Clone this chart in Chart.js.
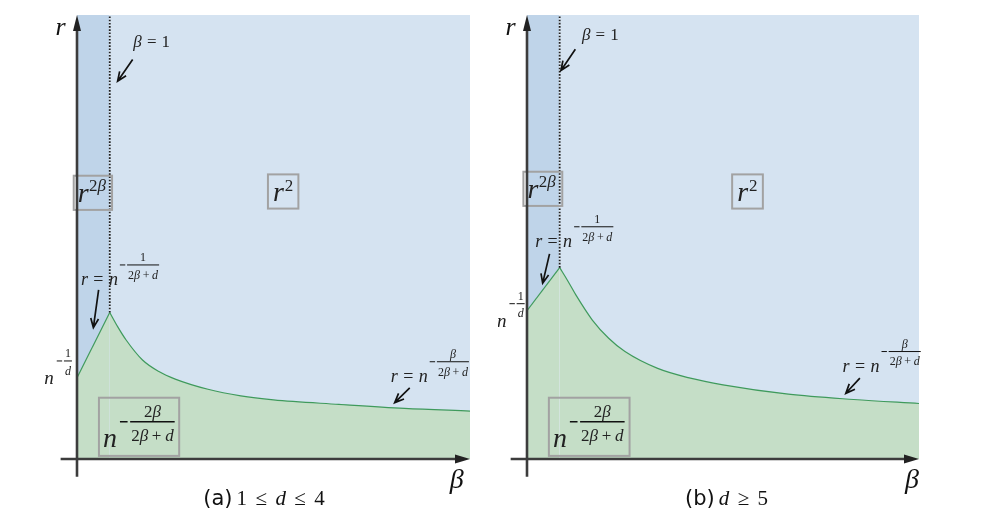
<!DOCTYPE html>
<html>
<head>
<meta charset="utf-8">
<script src="https://cdn.jsdelivr.net/npm/chart.js@4.4.0/dist/chart.umd.min.js"></script>
<style>
  html, body { margin: 0; padding: 0; background: #fff; }
  #wrap { position: relative; width: 996px; height: 514px; }
  .panel { position: absolute; top: 0; width: 498px; height: 514px; }
</style>
</head>
<body>
<div id="wrap">
  <div class="panel" style="left:0"><canvas id="chartA" width="498" height="514"></canvas></div>
  <div class="panel" style="left:498px"><canvas id="chartB" width="498" height="514"></canvas></div>
</div>
<script>
// boundary curve r(beta) (axis units: beta 0..12, r 0..10)
const betaA = [0, 1, 1.25, 1.5, 2, 2.5, 3, 4, 5, 6, 8, 10, 12];
const rA    = [1.83, 3.30, 2.97, 2.68, 2.23, 1.97, 1.80, 1.57, 1.42, 1.33, 1.23, 1.14, 1.08];
const betaB = [0, 1, 1.25, 1.5, 2, 2.5, 3, 4, 5, 6, 8, 10, 12];
const rB    = [3.34, 4.31, 4.01, 3.69, 3.13, 2.72, 2.42, 2.04, 1.82, 1.67, 1.46, 1.34, 1.25];
const betaRange = [0, 12];
const rRange = [0, 10];
const betaSplit = 1;

const regionLabels = { left: ['r', '2β'], right: ['r', '2'], low: ['n', '2β', '2β + d'] };
const captionA = ['(a)', '1 ≤ d ≤ 4'];
const captionB = ['(b)', 'd ≥ 5'];

// annotation anchors, in axis units
const notesA = {
  rLabel: [-0.66, 9.55], betaLabel: [11.38, -0.65], caption: [5.71, -1.04],
  betaOne: [1.72, 9.29], betaOneArrow: [1.70, 9.00, 1.24, 8.51],
  boxR2b: [-0.10, 6.38, 1.07, 5.61], boxR2: [5.83, 6.41, 6.76, 5.64], boxN: [0.67, 1.38, 3.12, 0.07],
  peakLabel: [0.12, 3.92], peakArrow: [0.66, 3.81, 0.50, 2.96],
  startLabel: [-1.0, 1.69],
  tailLabel: [9.58, 1.74], tailArrow: [10.16, 1.60, 9.70, 1.27]
};
const notesB = {
  rLabel: [-0.66, 9.55], betaLabel: [11.57, -0.65], caption: [6.11, -1.04],
  betaOne: [1.68, 9.44], betaOneArrow: [1.48, 9.23, 1.04, 8.75],
  boxR2b: [-0.11, 6.47, 1.08, 5.70], boxR2: [6.28, 6.41, 7.22, 5.64], boxN: [0.67, 1.38, 3.14, 0.07],
  peakLabel: [0.25, 4.78], peakArrow: [0.69, 4.62, 0.48, 3.96],
  startLabel: [-0.92, 2.98],
  tailLabel: [9.66, 1.97], tailArrow: [10.19, 1.82, 9.76, 1.48]
};

const SERIF = '"Liberation Serif", "DejaVu Serif", serif';

function setFont(ctx, size, italic) {
  ctx.font = (italic ? 'italic ' : '') + size + 'px ' + SERIF;
}

// draw math-ish text: latin letters and greek italic, the rest upright
function mathText(ctx, str, x, y, size, spaceEm) {
  const sp = size * (spaceEm || 0.3);
  for (const ch of str) {
    if (ch === ' ') { x += sp; continue; }
    setFont(ctx, size, /[a-zβ]/.test(ch));
    ctx.fillText(ch, x, y);
    x += ctx.measureText(ch).width;
  }
  return x;
}

function mathWidth(ctx, str, size, spaceEm) {
  const sp = size * (spaceEm || 0.3);
  let w = 0;
  for (const ch of str) {
    if (ch === ' ') { w += sp; continue; }
    setFont(ctx, size, /[a-zβ]/.test(ch));
    w += ctx.measureText(ch).width;
  }
  return w;
}

// "-num/den" placed as an exponent; x0 = start of minus sign, barY = fraction bar
function expFrac(ctx, x0, barY, num, den, size) {
  const wn = mathWidth(ctx, num, size, 0.22), wd = mathWidth(ctx, den, size, 0.22);
  const w = Math.max(wn, wd) + 2;
  const bx = x0 + size * 0.6;
  ctx.lineWidth = size > 13 ? 1.3 : 1;
  ctx.beginPath();
  ctx.moveTo(x0, barY); ctx.lineTo(x0 + size * 0.45, barY);
  ctx.moveTo(bx, barY); ctx.lineTo(bx + w, barY);
  ctx.stroke();
  mathText(ctx, num, bx + (w - wn) / 2, barY - size * 0.3, size, 0.22);
  mathText(ctx, den, bx + (w - wd) / 2, barY + size * 1.15, size, 0.22);
}

function arrow(ctx, x1, y1, x2, y2) {
  const a = Math.atan2(y2 - y1, x2 - x1), h = 10, s = 0.4;
  ctx.lineWidth = 1.7;
  ctx.beginPath();
  ctx.moveTo(x1, y1); ctx.lineTo(x2, y2);
  ctx.moveTo(x2 - h * Math.cos(a - s), y2 - h * Math.sin(a - s));
  ctx.lineTo(x2, y2);
  ctx.lineTo(x2 - h * Math.cos(a + s), y2 - h * Math.sin(a + s));
  ctx.stroke();
}

function diagramPlugin(notes, caption) {
  return {
    id: 'diagram',
    afterDraw(chart) {
      const ctx = chart.ctx;
      const X = v => chart.scales.x.getPixelForValue(v);
      const Y = v => chart.scales.y.getPixelForValue(v);
      ctx.save();

      // boxes behind labels
      ctx.strokeStyle = '#a2a2a2';
      ctx.lineWidth = 2;
      for (const b of [notes.boxR2b, notes.boxR2, notes.boxN]) {
        ctx.strokeRect(X(b[0]), Y(b[1]), X(b[2]) - X(b[0]), Y(b[3]) - Y(b[1]));
      }

      // axes
      const ax = '#3c3c3c';
      ctx.strokeStyle = ax; ctx.fillStyle = ax; ctx.lineWidth = 2.6;
      const x0 = X(0), y0 = Y(0), xe = X(betaRange[1]), ye = Y(rRange[1]);
      ctx.beginPath();
      ctx.moveTo(X(-0.5), y0); ctx.lineTo(xe - 8, y0);
      ctx.moveTo(x0, Y(-0.4)); ctx.lineTo(x0, ye + 10);
      ctx.stroke();
      ctx.fillStyle = '#222';
      ctx.beginPath();
      ctx.moveTo(xe, y0); ctx.lineTo(xe - 15, y0 - 4.5); ctx.lineTo(xe - 15, y0 + 4.5); ctx.closePath();
      ctx.moveTo(x0, ye); ctx.lineTo(x0 - 4, ye + 16); ctx.lineTo(x0 + 4, ye + 16); ctx.closePath();
      ctx.fill();

      ctx.fillStyle = '#111'; ctx.strokeStyle = '#111';
      ctx.textBaseline = 'alphabetic';

      // axis names
      mathText(ctx, 'r', X(notes.rLabel[0]), Y(notes.rLabel[1]), 26);
      mathText(ctx, 'β', X(notes.betaLabel[0]), Y(notes.betaLabel[1]), 28);

      // beta = 1 marker
      ctx.fillStyle = '#222';
      mathText(ctx, 'β = 1', X(notes.betaOne[0]), Y(notes.betaOne[1]), 17);
      let a = notes.betaOneArrow;
      arrow(ctx, X(a[0]), Y(a[1]), X(a[2]), Y(a[3]));

      // region labels in boxes
      let b = notes.boxR2b;
      let xr = mathText(ctx, regionLabels.left[0], X(b[0]) + 4, Y(b[3]) - 8, 28);
      mathText(ctx, regionLabels.left[1], xr + 0.5, Y(b[1]) + 15, 17);
      b = notes.boxR2;
      xr = mathText(ctx, regionLabels.right[0], X(b[0]) + 5, Y(b[3]) - 8, 28);
      mathText(ctx, regionLabels.right[1], xr + 1, Y(b[1]) + 17, 17);
      b = notes.boxN;
      xr = mathText(ctx, regionLabels.low[0], X(b[0]) + 4, Y(b[3]) - 9, 28);
      expFrac(ctx, xr + 3, Y(b[1]) + 24, regionLabels.low[1], regionLabels.low[2], 17);

      // curve labels
      let p = notes.peakLabel;
      xr = mathText(ctx, 'r = n', X(p[0]), Y(p[1]), 18);
      expFrac(ctx, xr + 2, Y(p[1]) - 20, '1', '2β + d', 12);
      a = notes.peakArrow;
      arrow(ctx, X(a[0]), Y(a[1]), X(a[2]), Y(a[3]));

      p = notes.tailLabel;
      xr = mathText(ctx, 'r = n', X(p[0]), Y(p[1]), 18);
      expFrac(ctx, xr + 2, Y(p[1]) - 20, 'β', '2β + d', 12);
      a = notes.tailArrow;
      arrow(ctx, X(a[0]), Y(a[1]), X(a[2]), Y(a[3]));

      p = notes.startLabel;
      xr = mathText(ctx, 'n', X(p[0]), Y(p[1]), 19);
      expFrac(ctx, xr + 3, Y(p[1]) - 23, '1', 'd', 12);

      // caption
      ctx.fillStyle = '#111';
      ctx.font = '21px "DejaVu Sans", sans-serif';
      const w1 = ctx.measureText(caption[0]).width;
      const w2 = mathWidth(ctx, caption[1], 21, 0.4);
      const cx = X(notes.caption[0]) - (w1 + 4 + w2) / 2, cy = Y(notes.caption[1]);
      ctx.font = '21px "DejaVu Sans", sans-serif';
      ctx.fillText(caption[0], cx, cy);
      mathText(ctx, caption[1], cx + w1 + 4, cy, 21, 0.4);

      ctx.restore();
    }
  };
}

function buildChart(id, betas, rs, notes, caption, pad) {
  const pts = betas.map((b, i) => ({ x: b, y: rs[i] }));
  const rise = pts.filter(p => p.x <= betaSplit);
  const decay = pts.filter(p => p.x >= betaSplit);
  const peak = rs[betas.indexOf(betaSplit)];
  const curveStyle = { showLine: true, borderColor: '#3f9a5c', borderWidth: 1.2,
    backgroundColor: '#c5dec7', fill: 'origin', pointRadius: 0, order: 0 };
  return new Chart(document.getElementById(id), {
    type: 'scatter',
    data: {
      datasets: [
        Object.assign({ label: 'boundary (beta < 1)', data: rise, tension: 0 }, curveStyle),
        Object.assign({ label: 'boundary (beta > 1)', data: decay, cubicInterpolationMode: 'monotone' }, curveStyle),
        { label: 'beta = 1', data: [{ x: betaSplit, y: peak }, { x: betaSplit, y: rRange[1] }],
          showLine: true, borderColor: '#1e1e1e', borderWidth: 1.8, borderDash: [1.6, 1.6],
          fill: false, pointRadius: 0, order: -1 },
        { label: 'r^2beta region', data: [{ x: betaRange[0], y: rRange[1] }, { x: betaSplit, y: rRange[1] }],
          showLine: true, borderWidth: 0, borderColor: 'rgba(0,0,0,0)', backgroundColor: '#bfd4e9',
          fill: 'origin', pointRadius: 0, order: 2 },
        { label: 'r^2 region', data: [{ x: betaSplit, y: rRange[1] }, { x: betaRange[1], y: rRange[1] }],
          showLine: true, borderWidth: 0, borderColor: 'rgba(0,0,0,0)', backgroundColor: '#d5e3f1',
          fill: 'origin', pointRadius: 0, order: 2 }
      ]
    },
    options: {
      responsive: false,
      animation: false,
      layout: { padding: pad },
      scales: {
        x: { type: 'linear', min: betaRange[0], max: betaRange[1], display: false },
        y: { type: 'linear', min: rRange[0], max: rRange[1], display: false }
      },
      plugins: { legend: { display: false }, tooltip: { enabled: false } }
    },
    plugins: [diagramPlugin(notes, caption)]
  });
}

buildChart('chartA', betaA, rA, notesA, captionA, { left: 77, right: 28, top: 15, bottom: 55 });
buildChart('chartB', betaB, rB, notesB, captionB, { left: 29, right: 77, top: 15, bottom: 55 });
</script>
</body>
</html>
